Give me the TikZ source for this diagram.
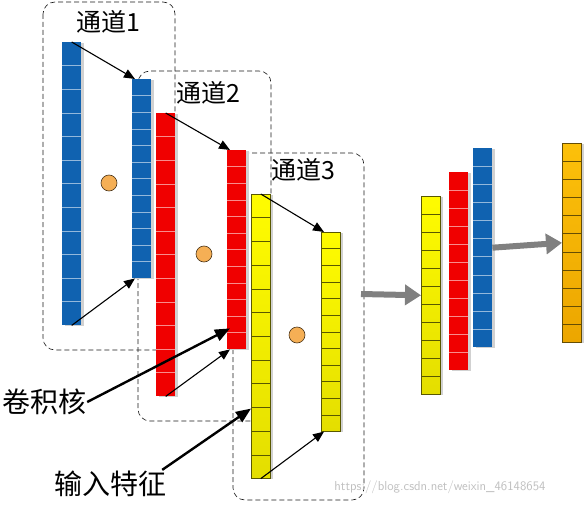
\documentclass[tikz,border=0pt]{standalone}
\usepackage{fontspec}
\setmainfont{Liberation Serif}
\newfontfamily\cjk{Noto Sans CJK SC}
\usetikzlibrary{calc,arrows.meta,shadows}

\definecolor{chblue}{RGB}{16,98,176}
\definecolor{chred}{RGB}{240,0,0}
\definecolor{chyellow}{RGB}{255,252,0}
\definecolor{chyellowdk}{RGB}{228,222,0}
\definecolor{chorange}{RGB}{252,192,10}
\definecolor{chorangedk}{RGB}{236,166,0}
\definecolor{dotorange}{RGB}{245,175,85}
\definecolor{arrowgray}{RGB}{128,128,128}

\tikzset{
  bar/.style={rectangle, inner sep=0pt, minimum width=19pt, anchor=north west,
    drop shadow={shadow xshift=2.5pt, shadow yshift=-1pt, fill=black!18, opacity=1}},
  bluebar/.style={bar, fill=chblue},
  redbar/.style={bar, fill=chred},
  yellowbar/.style={bar, top color=chyellow, bottom color=chyellowdk, draw=black!65!chyellow, line width=0.6pt},
  orangebar/.style={bar, top color=chorange, bottom color=chorangedk, draw=black!60!chorange, line width=0.6pt},
  bluesep/.style={draw=white!55!chblue, line width=0.6pt},
  redsep/.style={draw=white!55!chred, line width=0.6pt},
  yellowsep/.style={draw=black!65!chyellow, line width=0.6pt},
  orangesep/.style={draw=black!60!chorange, line width=0.6pt},
  chanbox/.style={dash pattern=on 5pt off 3pt, rounded corners=12pt, line width=0.6pt, draw=black!90},
  dot/.style={circle, minimum size=16pt, inner sep=0pt, fill=dotorange, draw=black!70!dotorange, line width=0.6pt},
  title/.style={font=\cjk\fontsize{25}{27}\selectfont, inner sep=0pt},
  label/.style={font=\cjk\fontsize{28}{30}\selectfont, inner sep=1pt},
  wmark/.style={font=\sffamily\fontsize{13}{15}\selectfont, text=black!25, inner sep=0pt},
  slide/.style={-{Triangle[length=11pt,width=9pt]}, line width=1.1pt},
  pointer/.style={-{Triangle[length=15pt,width=12pt]}, line width=2.4pt},
  flow/.style={-{Triangle[length=16pt,width=20pt]}, line width=6pt, draw=arrowgray},
}

\begin{document}
\begin{tikzpicture}[x=1pt, y=-1pt]
  \useasboundingbox (0,0) rectangle (585,505);

  % channel boxes
  \draw[chanbox] (43,2) rectangle (175,350);
  \draw[chanbox] (138,71) rectangle (271,421);
  \draw[chanbox] (233,153) rectangle (364,500);

  % input features and kernels
  \node[bluebar, minimum height=283pt] (in1) at (62,42) {};
  \node[bluebar, minimum height=199pt] (k1) at (132,79) {};
  \node[redbar, minimum height=283pt] (in2) at (156,113) {};
  \node[redbar, minimum height=199pt] (k2) at (227,150) {};
  \node[yellowbar, minimum height=284pt] (in3) at (251,194) {};
  \node[yellowbar, minimum height=199pt] (k3) at (321,232) {};

  % outputs of the channels and the sum
  \node[yellowbar, minimum height=198pt] (o1) at (421,196) {};
  \node[redbar, minimum height=198pt] (o2) at (449,172) {};
  \node[bluebar, minimum height=199pt] (o3) at (473,148) {};
  \node[orangebar, minimum height=199pt] (res) at (562,143) {};

  \foreach \b/\n/\c in {in1/12/bluesep, k1/12/bluesep, in2/12/redsep, k2/12/redsep,
      in3/12/yellowsep, k3/12/yellowsep, o1/11/yellowsep, o2/11/redsep,
      o3/11/bluesep, res/11/orangesep} {
    \pgfmathtruncatemacro\m{\n-1}
    \foreach \i in {1,...,\m}
      \draw[\c] ($(\b.north west)!\i/\n!(\b.south west)$) -- ($(\b.north east)!\i/\n!(\b.south east)$);
  }

  \node[dot] (d1) at (109,183) {};
  \node[dot] (d2) at (204,254) {};
  \node[dot] (d3) at (297,335) {};

  \node[title] (t1) at (108,22) {通道1};
  \node[title] (t2) at (208,93) {通道2};
  \node[title] (t3) at (303,170) {通道3};

  \draw[slide] (in1.north) -- ([xshift=3pt]k1.north west);
  \draw[slide] (in1.south) -- ([xshift=3pt]k1.south west);
  \draw[slide] (in2.north) -- ([xshift=3pt]k2.north west);
  \draw[slide] (in2.south) -- ([xshift=3pt]k2.south west);
  \draw[slide] (in3.north) -- ([xshift=3pt]k3.north west);
  \draw[slide] (in3.south) -- ([xshift=3pt]k3.south west);

  \node[label] (conv) at (44,402) {卷积核};
  \node[label] (feat) at (110,484) {输入特征};
  \draw[pointer] (conv.east) -- ([shift={(3,-21)}]k2.south west);
  \draw[pointer] ([xshift=-5pt]feat.north east) -- ([shift={(0,-70)}]in3.south west);

  \coordinate (g1) at (361,294);
  \draw[flow] (g1) -- (o1.west);
  \draw[flow] (o3.east) -- (res.west);

  \node[wmark] (url) at (440,487) {https://blog.csdn.net/weixin\_46148654};
\end{tikzpicture}
\end{document}
